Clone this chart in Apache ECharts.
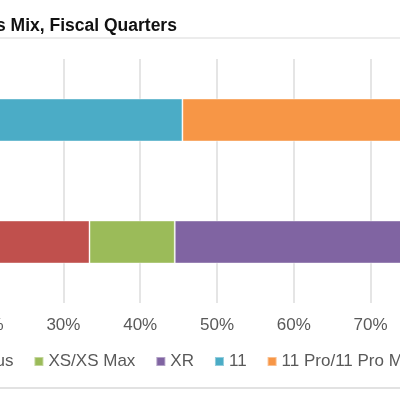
<!DOCTYPE html>
<html>
<head>
<meta charset="utf-8">
<script src="https://cdn.jsdelivr.net/npm/echarts@6/dist/echarts.min.js"></script>
<style>
  html, body { margin: 0; padding: 0; background: #fff; }
  #chart { width: 400px; height: 400px; }
</style>
</head>
<body>
<div id="chart"></div>
<script>
// quarters, bottom bar first (category axis starts at the bottom)
const quarters = ['Dec 2018 Qtr', 'Dec 2019 Qtr'];

// share of units, %
const models = ['8/8 Plus', 'XS/XS Max', 'XR', '11', '11 Pro/11 Pro Max'];
const plus8 = [33.4, 0];
const xsMax = [11.1, 0];
const xr = [55.5, 0];
const eleven = [0, 45.5];
const elevenPro = [0, 54.5];

const colors = ['#c0504d', '#9bbb59', '#8064a2', '#4bacc6', '#f79646'];
const font = '"Liberation Sans", Arial, sans-serif';

const chart = echarts.init(document.getElementById('chart'));

const seriesData = [plus8, xsMax, xr, eleven, elevenPro];

chart.setOption({
  animation: false,
  color: colors,
  title: {
    text: 's Mix, Fiscal Quarters',
    left: -4,
    top: 17,
    padding: 0,
    textStyle: { fontFamily: font, fontSize: 17.5, fontWeight: 'bold', color: '#111' }
  },
  legend: {
    left: -63,
    top: 353,
    width: 800,
    padding: 0,
    itemWidth: 9,
    itemHeight: 9,
    itemGap: 20,
    icon: 'rect',
    data: models,
    textStyle: { fontFamily: font, fontSize: 17, color: '#595959' }
  },
  // plot area is wider than the window: only ~18%..78% shows
  grid: { left: -167, right: -201, top: 59, bottom: 97, containLabel: false, outerBoundsMode: 'none' },
  xAxis: {
    type: 'value',
    min: 0, max: 100, interval: 10,
    axisLine: { show: false },
    axisTick: { show: false },
    axisLabel: { formatter: '{value}%', margin: 14, fontFamily: font, fontSize: 17, color: '#595959' },
    splitLine: { lineStyle: { color: '#dcdcdc', width: 1.5 } }
  },
  yAxis: {
    type: 'category',
    data: quarters,
    axisLine: { show: false },
    axisTick: { show: false },
    axisLabel: { fontFamily: font, fontSize: 17, color: '#595959' }
  },
  series: models.map((name, i) => ({
    name: name,
    type: 'bar',
    stack: 'mix',
    barWidth: 43,
    itemStyle: { borderColor: 'rgba(255,255,255,0.4)', borderWidth: 1 },
    data: seriesData[i]
  })),
  graphic: [
    { type: 'line', shape: { x1: 0, y1: 38, x2: 400, y2: 38 }, style: { stroke: '#e6e6e6', lineWidth: 1.5 } },
    { type: 'line', shape: { x1: 0, y1: 388, x2: 400, y2: 388 }, style: { stroke: '#d9d9d9', lineWidth: 1.5 } }
  ]
});
</script>
</body>
</html>
